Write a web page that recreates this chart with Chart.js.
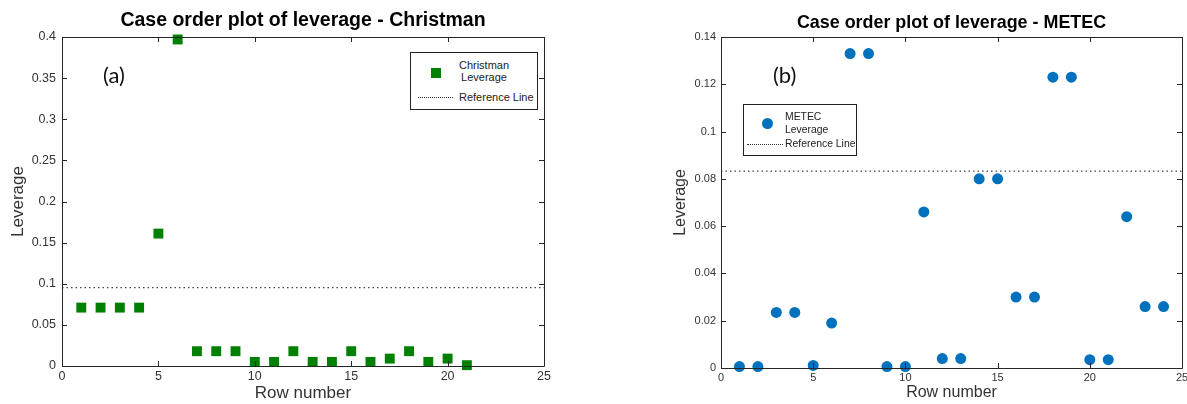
<!DOCTYPE html>
<html>
<head>
<meta charset="utf-8">
<script src="https://cdn.jsdelivr.net/npm/chart.js@4/dist/chart.umd.min.js"></script>
<style>
  html, body { margin: 0; padding: 0; background: #fff; }
  body { width: 1187px; height: 404px; overflow: hidden; position: relative; font-family: 'Liberation Sans', Arial, sans-serif; }
  .box { position: absolute; top: 0; height: 404px; }
  .tag { position: absolute; font-family: Lato, 'Open Sans', sans-serif; font-size: 22px; color: #111; line-height: 1; }
  .legend { position: absolute; border: 1.5px solid #222; background: #fff; color: #222; box-sizing: border-box; }
  .legend .row { position: absolute; white-space: nowrap; }
  .legend .dots { position: absolute; border-top: 1.5px dotted #333; height: 0; }
</style>
</head>
<body>

<div class="box" style="left:0; width:590px;"><canvas id="chartA"></canvas></div>
<div class="box" style="left:660px; width:545px;"><canvas id="chartB"></canvas></div>

<div class="tag" style="left:103px; top:64px;">(a)</div>
<div class="tag" style="left:773px; top:64px;">(b)</div>

<!-- leyenda (a) -->
<div class="legend" style="left:410px; top:52px; width:128px; height:58px; font-size:11px;">
  <div style="position:absolute; left:20px; top:15px; width:10px; height:10px; background:#008000;"></div>
  <div class="row" style="left:33px; top:6px; width:80px; text-align:center; line-height:12px;">Christman<br>Leverage</div>
  <div class="dots" style="left:7px; top:44px; width:35px;"></div>
  <div class="row" style="left:48px; top:38px;">Reference Line</div>
</div>

<!-- leyenda (b) -->
<div class="legend" style="left:743px; top:104px; width:114px; height:52px; font-size:10.4px;">
  <div style="position:absolute; left:18px; top:13px; width:11px; height:11px; border-radius:50%; background:#0072BD;"></div>
  <div class="row" style="left:41px; top:5px; line-height:13px;">METEC<br>Leverage</div>
  <div class="dots" style="left:3px; top:39px; width:36px;"></div>
  <div class="row" style="left:41px; top:33px;">Reference Line</div>
</div>

<script>
// ---- datos ----
const rowsChristman = [1, 2, 3, 4, 5, 6, 7, 8, 9, 10, 11, 12, 13, 14, 15, 16, 17, 18, 19, 20, 21];
const leverageChristman = [0.071, 0.071, 0.071, 0.071, 0.161, 0.397, 0.018, 0.018, 0.018, 0.005, 0.005,
                           0.018, 0.005, 0.005, 0.018, 0.005, 0.009, 0.018, 0.005, 0.009, 0.001];
const refChristman = 0.0952;

const rowsMetec = [1, 2, 3, 4, 5, 6, 7, 8, 9, 10, 11, 12, 13, 14, 15, 16, 17, 18, 19, 20, 21, 22, 23, 24];
const leverageMetec = [0.0006, 0.0006, 0.0235, 0.0235, 0.0011, 0.019, 0.133, 0.133, 0.0006, 0.0006, 0.066, 0.004,
                       0.004, 0.080, 0.080, 0.030, 0.030, 0.123, 0.123, 0.0035, 0.0035, 0.064, 0.026, 0.026];
const refMetec = 0.0833;

const xRange = [0, 25];

Chart.defaults.font.family = "'Liberation Sans', Arial, sans-serif";
Chart.defaults.color = '#333';

// marco tipo MATLAB: caja completa con ticks hacia adentro
const boxFrame = {
    id: 'boxFrame',
    afterDatasetsDraw(chart) {
        const { ctx, chartArea: a, scales } = chart;
        const len = 5;
        ctx.save();
        ctx.strokeStyle = '#262626';
        ctx.lineWidth = 1;
        ctx.beginPath();
        ctx.rect(Math.round(a.left) + 0.5, Math.round(a.top) + 0.5, Math.round(a.right - a.left), Math.round(a.bottom - a.top));
        scales.x.ticks.forEach(t => {
            const px = Math.round(scales.x.getPixelForValue(t.value)) + 0.5;
            ctx.moveTo(px, a.bottom); ctx.lineTo(px, a.bottom - len);
            ctx.moveTo(px, a.top); ctx.lineTo(px, a.top + len);
        });
        scales.y.ticks.forEach(t => {
            const py = Math.round(scales.y.getPixelForValue(t.value)) + 0.5;
            ctx.moveTo(a.left, py); ctx.lineTo(a.left + len, py);
            ctx.moveTo(a.right, py); ctx.lineTo(a.right - len, py);
        });
        ctx.stroke();
        ctx.restore();
    }
};

function makeChart(id, cfg) {
    const points = cfg.rows.map((r, i) => ({ x: r, y: cfg.values[i] }));
    const refLine = xRange.map(x => ({ x, y: cfg.ref }));

    return new Chart(document.getElementById(id), {
        type: 'scatter',
        data: {
            datasets: [{
                label: cfg.label,
                data: points,
                pointStyle: cfg.pointStyle,
                pointRadius: cfg.radius,
                pointHoverRadius: cfg.radius,
                backgroundColor: cfg.color,
                borderColor: cfg.color,
                borderWidth: 0,
                clip: false
            }, {
                type: 'line',
                label: 'Reference Line',
                data: refLine,
                borderColor: '#444',
                borderWidth: 1.2,
                borderDash: [1.5, 3],
                pointRadius: 0,
                fill: false
            }]
        },
        options: {
            responsive: true,
            maintainAspectRatio: false,
            animation: false,
            layout: { padding: { left: 0, right: cfg.padRight, top: 0, bottom: 0 } },
            plugins: {
                legend: { display: false },
                tooltip: { enabled: false },
                title: {
                    display: true,
                    text: cfg.title,
                    fullSize: false,
                    color: '#000',
                    font: { size: cfg.titleSize, weight: 'bold' },
                    padding: cfg.titlePad
                }
            },
            scales: {
                x: {
                    type: 'linear',
                    min: xRange[0], max: xRange[1],
                    grid: { display: false, drawTicks: false },
                    border: { display: false },
                    ticks: { stepSize: 5, padding: cfg.xTickPad, font: { size: cfg.tickSize } },
                    title: { display: true, text: 'Row number', color: '#333', font: { size: cfg.labelSize }, padding: { top: 0, bottom: cfg.xTitlePad } },
                    afterFit: s => { s.height = cfg.xHeight; }
                },
                y: {
                    min: 0, max: cfg.yMax,
                    grid: { display: false, drawTicks: false },
                    border: { display: false },
                    ticks: {
                        stepSize: cfg.yStep,
                        padding: cfg.yTickPad,
                        font: { size: cfg.tickSize },
                        callback: v => String(+v.toFixed(3))
                    },
                    title: { display: true, text: 'Leverage', color: '#333', font: { size: cfg.labelSize }, padding: { top: cfg.yTitlePad, bottom: 0 } },
                    afterFit: s => { s.width = cfg.yWidth; }
                }
            }
        },
        plugins: [boxFrame]
    });
}

makeChart('chartA', {
    rows: rowsChristman, values: leverageChristman, ref: refChristman,
    title: 'Case order plot of leverage - Christman', label: 'Christman Leverage',
    pointStyle: 'rect', radius: 7, color: '#008000',
    titleSize: 19.5, titlePad: { top: 9, bottom: 4.6 },
    tickSize: 12.5, labelSize: 17,
    yMax: 0.4, yStep: 0.05,
    yWidth: 62, yTickPad: 6, yTitlePad: 8.3,
    xHeight: 38, xTickPad: 3.5, xTitlePad: 0.8, padRight: 46
});

makeChart('chartB', {
    rows: rowsMetec, values: leverageMetec, ref: refMetec,
    title: 'Case order plot of leverage - METEC', label: 'METEC Leverage',
    pointStyle: 'circle', radius: 5.5, color: '#0072BD',
    titleSize: 17.9, titlePad: { top: 12, bottom: 3.5 },
    tickSize: 11, labelSize: 16,
    yMax: 0.14, yStep: 0.02,
    yWidth: 61, yTickPad: 5, yTitlePad: 10.9,
    xHeight: 36, xTickPad: 3.4, xTitlePad: 1.4, padRight: 23
});
</script>
</body>
</html>
